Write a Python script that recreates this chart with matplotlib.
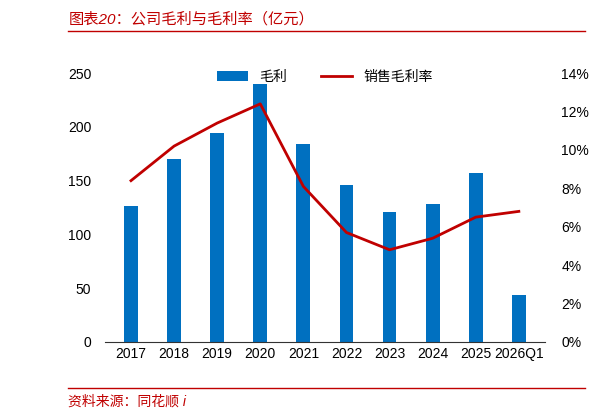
import matplotlib
matplotlib.use("Agg")
import matplotlib.pyplot as plt

plt.rcParams['font.family'] = ['Liberation Sans', 'Noto Sans CJK SC', 'DejaVu Sans']

categories = ["2017","2018","2019","2020","2021","2022","2023","2024","2025","2026Q1"]
gross_profit = [126, 170, 194, 240, 184, 146, 121, 128, 157, 44]
gross_margin = [8.4, 10.2, 11.4, 12.4, 8.1, 5.7, 4.8, 5.4, 6.5, 6.8]

fig = plt.figure(figsize=(5.94, 4.18), dpi=100)
ax = fig.add_axes([0.177, 0.182, 0.74, 0.643])
x = range(len(categories))
ax.bar(x, gross_profit, width=0.32, color="#0070C0", label="毛利")
ax.set_ylim(0, 250)
ax.set_yticks(range(0, 251, 50))
ax.set_xlim(-0.6, len(categories) - 0.4)
ax.set_xticks(list(x))
ax.set_xticklabels(categories)
for s in ["top", "right", "left"]:
    ax.spines[s].set_visible(False)
ax.spines["bottom"].set_color("#333333")
ax.tick_params(axis="y", length=0, labelsize=10, pad=10)
ax.tick_params(axis="x", length=0, labelsize=10)

ax2 = ax.twinx()
ax2.plot(list(x), gross_margin, color="#C00000", lw=2, label="销售毛利率")
ax2.set_ylim(0, 14)
ax2.set_yticks(range(0, 15, 2))
ax2.set_yticklabels([f"{v}%" for v in range(0, 15, 2)])
for s in ["top", "right", "left", "bottom"]:
    ax2.spines[s].set_visible(False)
ax2.tick_params(axis="y", length=0, labelsize=10, pad=12)

h1, l1 = ax.get_legend_handles_labels()
h2, l2 = ax2.get_legend_handles_labels()
ax.legend(h1 + h2, l1 + l2, loc="upper center", bbox_to_anchor=(0.5, 1.06), ncol=2, frameon=False, fontsize=10, handlelength=2.2, columnspacing=2.5)

fig.text(0.115, 0.955, "图表20：公司毛利与毛利率（亿元）", color="#C00000", fontsize=11, style="italic", va="center")
fig.add_artist(plt.Line2D([0.115, 0.985], [0.925, 0.925], color="#C00000", lw=1))
fig.add_artist(plt.Line2D([0.115, 0.985], [0.072, 0.072], color="#C00000", lw=1))
fig.text(0.115, 0.04, "资料来源：同花顺 i", color="#C00000", fontsize=10, style="italic", va="center")

fig.savefig("out.png", dpi=100)
